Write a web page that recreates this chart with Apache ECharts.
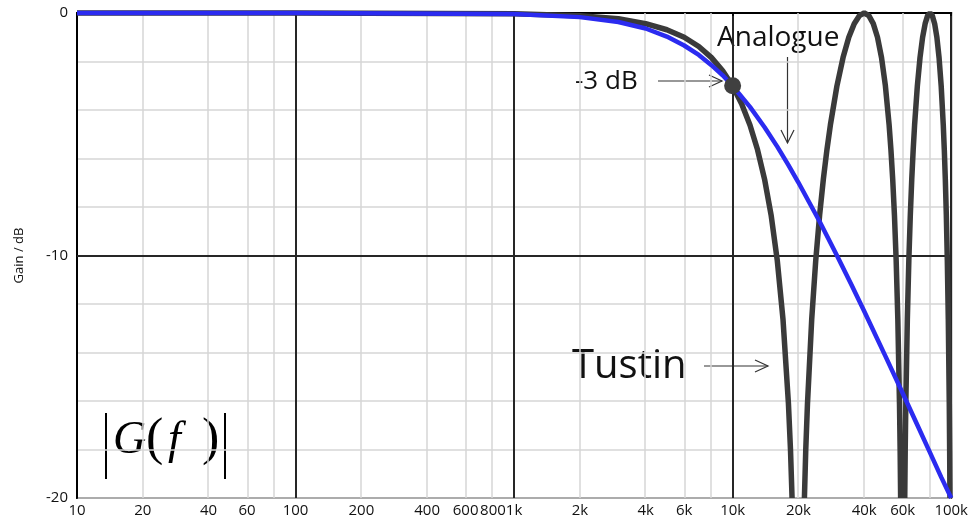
<!DOCTYPE html>
<html>
<head>
<meta charset="utf-8">
<script src="https://cdn.jsdelivr.net/npm/echarts@6/dist/echarts.min.js"></script>
<style>
  html, body { margin: 0; padding: 0; background: #fff; }
  #chart { width: 971px; height: 520px; }
</style>
</head>
<body>
<div id="chart"></div>
<script>
// ---- Data (frequencies in Hz, gains in dB) ----
const tickFreqs  = [10, 20, 40, 60, 100, 200, 400, 600, 800, 1000, 2000, 4000, 6000, 10000, 20000, 40000, 60000, 100000];
const tickLabels = ['10','20','40','60','100','200','400','600','800','1k','2k','4k','6k','10k','20k','40k','60k','100k'];
const minorGridFreqs = [20, 40, 60, 80, 200, 400, 600, 800, 2000, 4000, 6000, 8000, 20000, 40000, 60000, 80000];
const yLabelValues = [0, -10, -20];

const analogueFreq = [10, 100, 1000, 2000, 3000, 4000, 5000, 6000, 7000, 8000, 9000, 10000, 12000, 14000, 16000, 18000, 20000, 25000, 30000, 35000, 40000, 50000, 60000, 70000, 80000, 90000, 100000];
const analogueGain = [0, 0, -0.04, -0.17, -0.37, -0.64, -0.97, -1.34, -1.73, -2.15, -2.57, -3.01, -3.87, -4.71, -5.51, -6.27, -6.99, -8.60, -10.00, -11.22, -12.30, -14.15, -15.68, -16.99, -18.13, -19.14, -20.0];

// Tustin curve: null = line leaves the plot at the bottom (notch)
const tustinFreq = [10, 100, 1000, 2000, 3000, 4000, 5000, 6000, 7000, 8000, 9000, 10000, 11000, 12000, 13000, 14000, 15000, 16000, 17000, 18000, 18400, 18700,
  20000,
  21300, 21600, 22000, 23000, 24000, 25000, 26000, 27000, 28000, 30000, 32000, 34000, 36000, 38000, 40000, 42000, 44000, 46000, 48000, 50000, 52000, 53000, 54000, 55000, 56000, 57000, 58000, 58400, 58700,
  60000,
  61300, 61600, 62000, 63000, 64000, 65000, 66000, 67000, 68000, 70000, 72000, 74000, 76000, 78000, 80000, 82000, 84000, 86000, 88000, 90000, 92000, 93000, 94000, 95000, 96000, 97000, 98000, 98400, 98700];
const tustinGain = [0, 0, -0.03, -0.11, -0.24, -0.44, -0.69, -1.00, -1.38, -1.84, -2.38, -3.01, -3.75, -4.62, -5.64, -6.86, -8.34, -10.20, -12.64, -16.11, -18.04, -20,
  null,
  -20, -18.04, -16.11, -12.64, -10.20, -8.34, -6.86, -5.64, -4.62, -3.01, -1.84, -1.00, -0.44, -0.11, 0, -0.11, -0.44, -1.00, -1.84, -3.01, -4.62, -5.64, -6.86, -8.34, -10.20, -12.64, -16.11, -18.04, -20,
  null,
  -20, -18.04, -16.11, -12.64, -10.20, -8.34, -6.86, -5.64, -4.62, -3.01, -1.84, -1.00, -0.44, -0.11, 0, -0.11, -0.44, -1.00, -1.84, -3.01, -4.62, -5.64, -6.86, -8.34, -10.20, -12.64, -16.11, -18.04, -20];

const cornerPoint = [10000, -3];

// ---- Build ----
const lg = Math.log10;
const pair = (fs, gs) => fs.map((f, i) => [lg(f), gs[i]]);

const chart = echarts.init(document.getElementById('chart'), null, { renderer: 'canvas' });
const tickFont = 'Open Sans';
const arrowStyle = { stroke: '#333', lineWidth: 1.2, fill: null };

const option = {
  animation: false,
  backgroundColor: '#fff',
  grid: { left: 77, right: 16, top: 13, bottom: 22, show: true, borderColor: '#333', borderWidth: 2 },
  xAxis: {
    type: 'value', min: 1, max: 5, interval: 1,
    axisLine: { lineStyle: { color: '#000', width: 2 } },
    axisTick: { show: true, length: 3, lineStyle: { color: '#000', width: 1.5 } },
    splitLine: { show: true, lineStyle: { color: '#262626', width: 2 } },
    axisLabel: {
      customValues: tickFreqs.map(lg),
      formatter: v => {
        const i = tickFreqs.findIndex(f => Math.abs(lg(f) - v) < 1e-6);
        return i >= 0 ? tickLabels[i] : '';
      },
      fontFamily: tickFont, fontSize: 15, color: '#111', margin: 5
    }
  },
  yAxis: {
    type: 'value', min: -20, max: 0, interval: 2,
    name: 'Gain / dB', nameLocation: 'middle', nameGap: 51,
    nameTextStyle: { fontFamily: tickFont, fontSize: 13, color: '#111' },
    axisLine: { show: true, lineStyle: { color: '#000', width: 2 } },
    axisTick: { show: false },
    splitLine: { show: true, lineStyle: { color: '#d6d6d6', width: 1.5 } },
    axisLabel: {
      formatter: v => yLabelValues.includes(v) ? String(v) : '',
      fontFamily: tickFont, fontSize: 15, color: '#111', margin: 9
    }
  },
  series: [
    {
      type: 'line', data: [], z: 1, silent: true,
      markLine: {
        z: 1, silent: true, symbol: ['none', 'none'], label: { show: false }, animation: false,
        data: minorGridFreqs.map(f => ({ xAxis: lg(f), lineStyle: { color: '#d6d6d6', width: 1.5, type: 'solid' } }))
          .concat([{ yAxis: -10, lineStyle: { color: '#262626', width: 2, type: 'solid' } }])
      }
    },
    {
      name: 'Tustin', type: 'line', data: pair(tustinFreq, tustinGain),
      showSymbol: false, clip: false, connectNulls: false, z: 3,
      lineStyle: { color: '#3a3a3a', width: 5.5 }
    },
    {
      name: 'Analogue', type: 'line', data: pair(analogueFreq, analogueGain),
      showSymbol: false, clip: false, z: 4,
      lineStyle: { color: '#2b2bf0', width: 4.5 }
    },
    {
      type: 'scatter', data: [[lg(cornerPoint[0]), cornerPoint[1]]], z: 5,
      symbolSize: 17, itemStyle: { color: '#404040', opacity: 1 }
    }
  ],
  graphic: [
    { type: 'text', left: 575, top: 69, style: { text: '-3 dB', font: '26px "Open Sans"', fill: '#111' } },
    { type: 'line', shape: { x1: 658, y1: 81, x2: 722, y2: 81 }, style: arrowStyle },
    { type: 'polyline', shape: { points: [[709, 75], [722, 81], [709, 87]] }, style: arrowStyle },

    { type: 'text', left: 717, top: 24, style: { text: 'Analogue', font: '28px "Open Sans"', fill: '#111' } },
    { type: 'line', shape: { x1: 787.5, y1: 57, x2: 787.5, y2: 143 }, style: arrowStyle },
    { type: 'polyline', shape: { points: [[781, 130], [787.5, 143], [794, 130]] }, style: arrowStyle },

    { type: 'text', left: 572, top: 347, style: { text: 'Tustin', font: '40px "Open Sans"', fill: '#111' } },
    { type: 'line', shape: { x1: 704, y1: 366, x2: 768, y2: 366 }, style: arrowStyle },
    { type: 'polyline', shape: { points: [[755, 360], [768, 366], [755, 372]] }, style: arrowStyle },

    { type: 'line', shape: { x1: 106, y1: 413, x2: 106, y2: 479 }, style: { stroke: '#000', lineWidth: 2 } },
    { type: 'line', shape: { x1: 225, y1: 413, x2: 225, y2: 479 }, style: { stroke: '#000', lineWidth: 2 } },
    { type: 'text', left: 113, top: 418, style: { text: 'G', font: 'italic 46px "Liberation Serif"', fill: '#000' } },
    { type: 'text', left: 146, top: 414, style: { text: '(', font: '52px "Liberation Serif"', fill: '#000' } },
    { type: 'text', left: 168, top: 418, style: { text: 'f', font: 'italic 46px "Liberation Serif"', fill: '#000' } },
    { type: 'text', left: 202, top: 414, style: { text: ')', font: '52px "Liberation Serif"', fill: '#000' } }
  ]
};
chart.setOption(option);
</script>
</body>
</html>
